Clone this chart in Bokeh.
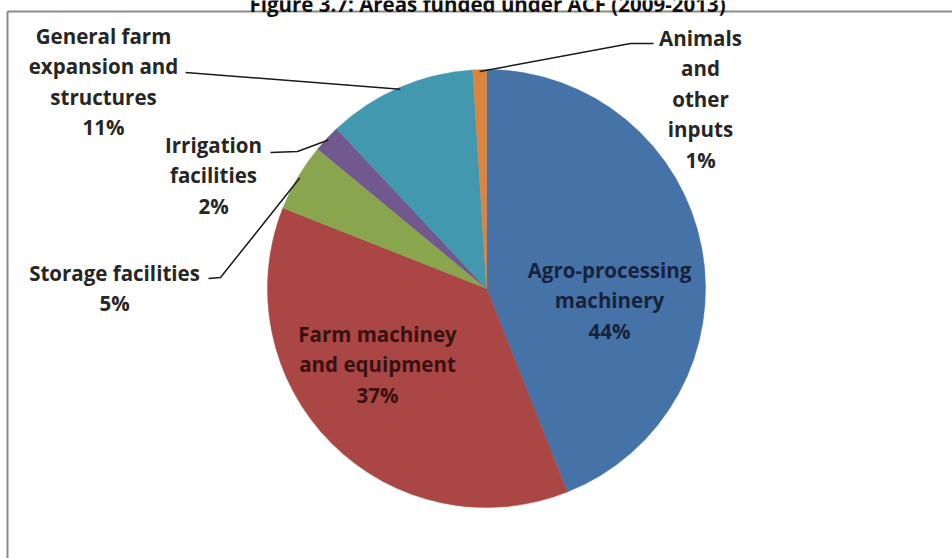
import math

from bokeh.core.properties import value
from bokeh.embed import file_html
from bokeh.models import ColumnDataSource, Range1d
from bokeh.plotting import figure
from bokeh.resources import INLINE

# Shares of funded areas, listed clockwise from twelve o'clock
categories = [
    "Agro-processing\nmachinery",
    "Farm machiney\nand equipment",
    "Storage facilities",
    "Irrigation\nfacilities",
    "General farm\nexpansion and\nstructures",
    "Animals\nand\nother\ninputs",
]
shares = [44, 37, 5, 2, 11, 1]
colors = ["#4572A7", "#AA4643", "#89A54E", "#71588F", "#4198AF", "#DB843D"]
title = "Figure 3.7: Areas funded under ACF (2009-2013)"

W, H = 952, 558
CX, CY, R = 486, 288, 219  # pie centre / radius in page pixels (y down)
FONT = "Open Sans"
LINE_STEP = 30.5


def Y(py):
    return H - py


total = float(sum(shares))
starts, ends, mids = [], [], []
acc = 0.0
for s in shares:
    a0 = math.pi / 2 - 2 * math.pi * acc / total
    acc += s
    a1 = math.pi / 2 - 2 * math.pi * acc / total
    starts.append(a0)
    ends.append(a1)
    mids.append((a0 + a1) / 2)

p = figure(width=W, height=H, output_backend="svg", toolbar_location=None,
           x_range=Range1d(0, W), y_range=Range1d(0, H), min_border=0)
p.axis.visible = False
p.grid.visible = False
p.outline_line_color = None
p.background_fill_color = "white"

src = ColumnDataSource(dict(start=starts, end=ends, color=colors))
p.wedge(x=CX, y=Y(CY), radius=R, start_angle="start", end_angle="end",
        direction="clock", fill_color="color", line_color="color",
        line_width=0.5, source=src)

# Chart frame (left and top edges)
p.line([7, 7], [Y(11), 0], line_color="#8a8a8a", line_width=2)
p.line([7, W], [Y(11), Y(11)], line_color="#8a8a8a", line_width=2)

# Title, partly above the frame
p.text(x=[487], y=[Y(3)], text=[title], text_font=value(FONT),
       text_font_style="bold", text_font_size="20.5px", text_align="center",
       text_baseline="alphabetic", text_color="#111111")


def label(i, x, first_y, color, size="20.5px"):
    lines = categories[i].split("\n") + [f"{shares[i]}%"]
    ys = [Y(first_y + k * LINE_STEP) for k in range(len(lines))]
    p.text(x=[x] * len(lines), y=ys, text=lines, text_font=value(FONT),
           text_font_style="bold", text_font_size=size, text_align="center",
           text_baseline="middle", text_color=color)


def edge_point(i, rr=R):
    a = mids[i]
    return CX + rr * math.cos(a), Y(CY) + rr * math.sin(a)


# Labels inside the two largest slices
label(0, 609, 269, "#17223d")
label(1, 377, 333, "#3a1111")

# Outside labels with leader lines
label(4, 103, 35, "#262626")
label(3, 213, 144, "#262626")
label(2, 114, 272, "#262626")
label(5, 700, 37, "#262626")

leaders = {
    4: [(185, 72)],
    3: [(270, 152), (297, 151)],
    2: [(208, 278), (220, 277)],
    5: [(653, 43), (630, 43)],
}
for i, pts in leaders.items():
    ex, ey = edge_point(i, R - 2)
    xs = [q[0] for q in pts] + [ex]
    ys = [Y(q[1]) for q in pts] + [ey]
    p.line(xs, ys, line_color="#1a1a1a", line_width=1.5)

open("out.html", "w").write(file_html(p, INLINE))
